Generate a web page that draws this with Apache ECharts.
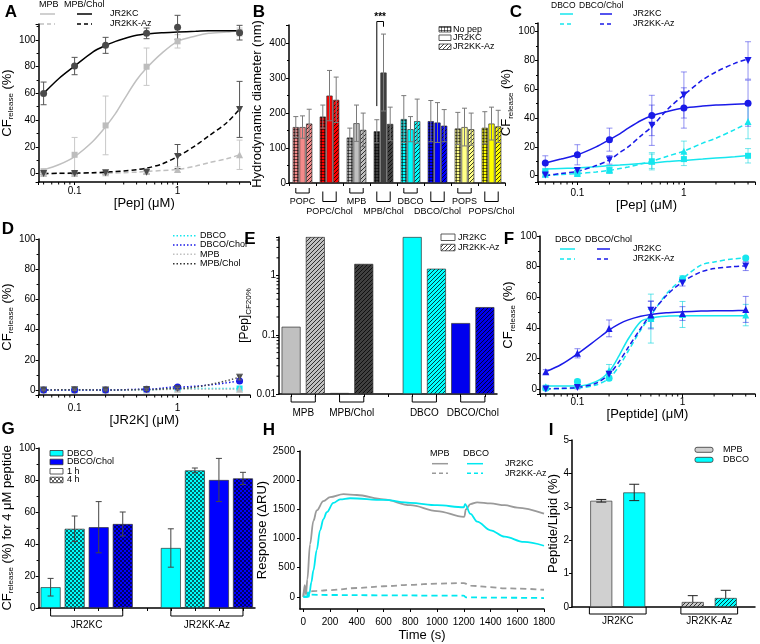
<!DOCTYPE html>
<html>
<head>
<meta charset="utf-8">
<title>CF release panels</title>
<script src="https://cdn.jsdelivr.net/npm/echarts@6.0.0/dist/echarts.min.js"></script>
<style>
html, body { margin: 0; padding: 0; background: #fff; }
#main { width: 760px; height: 644px; }
</style>
</head>
<body>
<div id="main"></div>
<script>
var FF = '"Liberation Sans", Arial, sans-serif';

// shared concentrations (uM)
var conc = [0.05, 0.1, 0.2, 0.5, 1, 4];
var fitX = [0.05, 0.07, 0.1, 0.15, 0.2, 0.25, 0.3, 0.4, 0.5, 0.7, 1, 1.5, 2, 3, 4];
// minor tick positions on the log axes
var logMinor = [0.02, 0.03, 0.04, 0.05, 0.06, 0.07, 0.08, 0.09, 0.2, 0.3, 0.4, 0.5, 0.6, 0.7, 0.8, 0.9, 2, 3, 4];

// A: MPB and MPB/Chol
var aMpbKc = [1.5, 14, 36, 80, 99, 106];
var aMpbKcErr = [2, 13, 22, 14, 5, 3];
var aCholKc = [60, 80.5, 96, 105, 109.5, 105.5];
var aCholKcErr = [8.5, 6.5, 6, 4, 9, 5.5];
var aMpbAz = [0, 0, 0.5, 1.5, 3, 14];
var aMpbAzErr = [1, 1, 1, 1.5, 2, 11];
var aCholAz = [0, 0, 0.5, 1, 12.7, 48];
var aCholAzErr = [1, 1, 1, 1.5, 9, 21];
var aMpbKcFit = [2.7, 6.5, 12.7, 24, 35, 45, 55, 70, 79, 90, 99, 103, 105, 106, 107];
var aCholKcFit = [60, 71, 80.5, 91, 96, 99, 101, 103.5, 104.5, 105.5, 106, 106.5, 107, 107, 107];
var aMpbAzFit = [0, 0, 0.1, 0.2, 0.3, 0.4, 0.6, 1, 1.5, 2.2, 3, 5.5, 8, 11, 14];
var aCholAzFit = [0, 0.1, 0.3, 0.6, 1, 1.4, 1.8, 2.8, 4, 7, 12.7, 21, 28, 38, 48];

// B: hydrodynamic diameter (nm)
var bGroups = ['POPC', 'POPC/Chol', 'MPB', 'MPB/Chol', 'DBCO', 'DBCO/Chol', 'POPS', 'POPS/Chol'];
var bNoPep = [160, 190, 130, 148, 183, 177, 156, 158];
var bNoPepErr = [30, 33, 27, 33, 67, 59, 46, 46];
var bKc = [160, 250, 171, 316, 154, 173, 160, 170];
var bKcErr = [32, 72, 52, 110, 36, 57, 54, 47];
var bAz = [170, 238, 152, 169, 177, 164, 154, 162];
var bAzErr = [41, 65, 48, 48, 63, 46, 46, 46];
var bSig = [3, 220, 462, 447]; // group, left foot, top, right foot

// C: DBCO and DBCO/Chol
var cDbcoKc = [3, 2, 3.7, 10, 11.5, 13.8];
var cDbcoKcErr = [2, 1.5, 2, 6, 4.5, 5];
var cCholKc = [8.8, 14.5, 25, 41.8, 47, 50.3];
var cCholKcErr = [5, 7, 8, 14, 14, 16];
var cDbcoAz = [1, 1.5, 4, 10, 17, 37.6];
var cDbcoAzErr = [1, 1, 2, 5, 7, 12];
var cCholAz = [0.5, 3.5, 11, 35, 56, 80];
var cCholAzErr = [1, 1.5, 3, 14, 16, 13];
var cDbcoKcFit = [4.6, 5, 5.3, 6.2, 7, 7.4, 7.8, 8.4, 8.8, 9.8, 10.6, 11.5, 12.2, 13.2, 14];
var cCholKcFit = [8.8, 11.5, 14.5, 20, 25, 29, 33, 38.5, 41.6, 44.6, 47, 48.3, 49, 49.6, 50];
var cDbcoAzFit = [0.2, 0.8, 1.4, 2.6, 3.7, 4.9, 6, 8.2, 10, 13.5, 17, 22.6, 26, 32, 36.5];
var cCholAzFit = [0, 1.5, 3, 7, 11, 16, 20, 28, 34, 46, 56, 66.5, 72, 78, 81];

// D: JR2K control
var dDbco = [0, 0, 0, 0.2, 1, 1];
var dDbcoChol = [0, 0, 0, 0.5, 2, 6];
var dDbcoCholErr = [0.5, 0.5, 0.5, 0.5, 0.8, 1.2];
var dMpb = [0, 0, 0, 0, 0.5, 0.5];
var dMpbChol = [0, 0.2, 0, 0.3, 1, 8.5];
var dMpbCholErr = [0.5, 0.5, 0.5, 0.5, 0.8, 1.8];

// E: [Pep] at CF 20 %
var eSlots = ['MPB JR2KC', 'MPB JR2KK-Az', 'MPB/Chol JR2KC', 'MPB/Chol JR2KK-Az', '',
  'DBCO JR2KC', 'DBCO JR2KK-Az', 'DBCO/Chol JR2KC', 'DBCO/Chol JR2KK-Az'];
var ePeptide = ['JR2KC', 'JR2KK-Az', 'JR2KC', 'JR2KK-Az', '', 'JR2KC', 'JR2KK-Az', 'JR2KC', 'JR2KK-Az'];
var eVals = [0.137, 4.5, 0.0104, 1.58, null, 4.5, 1.31, 0.158, 0.294];
var eGroups = ['MPB', 'MPB/Chol', 'DBCO', 'DBCO/Chol'];
var eFrom = [0, 2, 5, 7];
var eTo = [1, 3, 6, 8];

// F: DBCO and DBCO/Chol, peptide
var fDbcoKc = [1.5, 2.6, 12, 46, 48.7, 48.3];
var fDbcoKcErr = [1, 1.5, 4, 16, 8.5, 7];
var fCholKc = [11.3, 23.3, 39.6, 48.3, 49.3, 52];
var fCholKcErr = [1.3, 3, 5.5, 9, 4.5, 8.5];
var fDbcoAz = [0.5, 4.8, 7, 46, 72, 85.6];
var fDbcoAzErr = [1, 1.5, 1.5, 6, 2, 1];
var fCholAz = [0, 1, 9.6, 51.5, 69.3, 80.4];
var fCholAzErr = [1, 1, 2, 6, 2, 3];
var fDbcoKcFit = [2, 2, 2, 4.8, 11.3, 22, 32, 44, 46.5, 47.6, 47.8, 47.8, 47.8, 47.8, 47.8];
var fCholKcFit = [11.3, 16, 23, 32, 38.5, 42.5, 45, 47.5, 48.7, 49.8, 50.4, 50.9, 51.1, 51.2, 51.3];
var fDbcoAzFit = [0, 0.2, 0.5, 2.6, 7, 15, 24, 38.5, 48, 62, 72, 81, 83, 85, 85.6];
var fCholAzFit = [0, 0.4, 1, 3.7, 9.6, 18, 26.5, 39.6, 49, 61, 70, 76.5, 78.7, 80, 80.4];

// G: CF release for 4 uM peptide
var gSlots = ['JR2KC DBCO 1 h', 'JR2KC DBCO 4 h', 'JR2KC DBCO/Chol 1 h', 'JR2KC DBCO/Chol 4 h', '',
  'JR2KK-Az DBCO 1 h', 'JR2KK-Az DBCO 4 h', 'JR2KK-Az DBCO/Chol 1 h', 'JR2KK-Az DBCO/Chol 4 h'];
var gLipid = ['DBCO', 'DBCO', 'DBCO/Chol', 'DBCO/Chol', '', 'DBCO', 'DBCO', 'DBCO/Chol', 'DBCO/Chol'];
var gTime = ['1 h', '4 h', '1 h', '4 h', '', '1 h', '4 h', '1 h', '4 h'];
var gVals = [13, 49.5, 50.5, 52.5, null, 37.5, 86, 80, 81];
var gErr = [5.5, 8, 16, 7.5, null, 12, 1.5, 13.5, 3.8];
var gGroups = ['JR2KC', 'JR2KK-Az'];
var gFrom = [0, 5];
var gTo = [3, 8];

// H: SPR sensorgrams
var hMpbKcT = [0, 10, 20, 30, 50, 75, 100, 150, 200, 300, 400, 600, 800, 1000, 1200, 1205, 1215, 1250, 1300, 1400, 1506, 1600, 1800];
var hMpbKcV = [0, 200, 40, 300, 900, 1300, 1480, 1640, 1710, 1760, 1745, 1670, 1570, 1470, 1370, 1380, 1500, 1590, 1620, 1600, 1570, 1530, 1425];
var hDbcoKcT = [0, 30, 35, 40, 45, 60, 75, 100, 125, 150, 175, 225, 275, 350, 600, 800, 1000, 1200, 1210, 1250, 1300, 1400, 1506, 1650, 1800];
var hDbcoKcV = [0, 0, 80, 0, 50, 250, 450, 800, 1140, 1330, 1450, 1610, 1670, 1690, 1660, 1610, 1570, 1535, 1590, 1420, 1290, 1140, 1030, 940, 875];
var hMpbAzT = [0, 10, 20, 40, 100, 200, 400, 600, 800, 1000, 1200, 1250, 1400, 1506, 1600, 1800];
var hMpbAzV = [0, 150, 60, 90, 100, 115, 150, 180, 205, 225, 235, 190, 165, 145, 140, 120];
var hDbcoAzT = [0, 30, 35, 50, 200, 600, 1000, 1200, 1215, 1400, 1800];
var hDbcoAzV = [0, 0, 40, 35, 30, 25, 20, 18, -10, -15, -22];

// I: peptide/lipid
var iCats = ['JR2KC', 'JR2KK-Az'];
var iMpb = [3.18, 0.15];
var iMpbErrLo = [0.04, 0];
var iMpbErrHi = [0.04, 0.19];
var iDbco = [3.43, 0.27];
var iDbcoErrLo = [0.245, 0];
var iDbcoErrHi = [0.245, 0.23];

// ---------- colours / patterns
var CYAN = '#00ffff', CYANL = '#16e6ee', BLUE = '#0000ff', BLUEL = '#1a1ae8';
var LGRAY = '#c0c0c0', DGRAY = '#404040';
var DOWN = 'path://M0,0L10,0L5,9Z';

function pat(base, kind) {
  var n = kind === 'grid' ? 3 : 4;
  var c = document.createElement('canvas');
  c.width = n; c.height = n;
  var g = c.getContext('2d');
  g.fillStyle = base; g.fillRect(0, 0, n, n);
  if (kind === 'grid') {
    g.fillStyle = 'rgba(0,0,0,0.55)';
    g.fillRect(0, 0, n, 1); g.fillRect(0, 0, 1, n);
  } else if (kind === 'hatch') {
    g.strokeStyle = 'rgba(0,0,0,0.75)'; g.lineWidth = 1;
    g.beginPath();
    g.moveTo(0, n); g.lineTo(n, 0);
    g.moveTo(-1, 1); g.lineTo(1, -1);
    g.moveTo(n - 1, n + 1); g.lineTo(n + 1, n - 1);
    g.stroke();
  } else if (kind === 'check') {
    g.fillStyle = 'rgba(0,0,0,0.6)';
    g.fillRect(0, 0, 2, 2); g.fillRect(2, 2, 2, 2);
  }
  return {image: c, repeat: 'repeat'};
}

function merge(a, b) {
  var o = {};
  [a, b].forEach(function (src) {
    if (!src) return;
    Object.keys(src).forEach(function (k) {
      var v = src[k];
      if (v && typeof v === 'object' && !Array.isArray(v) && o[k] && typeof o[k] === 'object' && !Array.isArray(o[k]) && !v.image) {
        o[k] = merge(o[k], v);
      } else {
        o[k] = v;
      }
    });
  });
  return o;
}

var RICH = {
  a: {fontSize: 13, fontFamily: FF, color: '#000'},
  b: {fontSize: 12, fontFamily: FF, color: '#000'},
  s: {fontSize: 8, fontFamily: FF, color: '#000', padding: [7, 0, 0, 0]}
};

function axisBase(pi) {
  return {
    gridIndex: pi,
    splitLine: {show: false},
    axisLine: {show: true, onZero: false, lineStyle: {color: '#000', width: 1.5}},
    axisTick: {show: true, length: 3, lineStyle: {color: '#000', width: 1}},
    axisLabel: {fontSize: 10, fontFamily: FF, color: '#000', margin: 4},
    nameLocation: 'middle',
    nameTextStyle: {fontSize: 13, fontFamily: FF, color: '#000', rich: RICH}
  };
}
function logFmt(v) {
  var l = Math.log(v) / Math.LN10;
  return Math.abs(l - Math.round(l)) < 1e-6 ? String(+v.toPrecision(6)) : '';
}
function plainFmt(v) { return String(v); }
function logX(pi, min, max, name, gap, margin) {
  return merge(axisBase(pi), {
    type: 'log', logBase: 10, min: min, max: max, name: name, nameGap: gap,
    axisLabel: {formatter: logFmt, margin: margin}
  });
}
function valY(pi, min, max, name, gap, opt) {
  return merge(merge(axisBase(pi), {
    type: 'value', min: min, max: max, name: name, nameGap: gap,
    minorTick: {show: true, splitNumber: 2, length: 2, lineStyle: {color: '#000'}},
    axisLabel: {showMinLabel: false, showMaxLabel: false, margin: 3}
  }), opt || {});
}
function catX(pi, data, opt) {
  return merge(merge(axisBase(pi), {
    type: 'category', data: data,
    axisLabel: {show: false},
    axisTick: {alignWithLabel: true, interval: 0}
  }), opt || {});
}

// ---------- series helpers
function fitSeries(pi, ys, color, dashed) {
  return {
    type: 'line', xAxisIndex: pi, yAxisIndex: pi, silent: true, z: 2,
    data: fitX.map(function (x, i) { return [x, ys[i]]; }),
    smooth: 0.3, symbol: 'none',
    lineStyle: {color: color, width: 1.5, type: dashed ? [5, 3] : 'solid'}
  };
}
function markSeries(pi, ys, symbol, color, size) {
  return {
    type: 'scatter', xAxisIndex: pi, yAxisIndex: pi, silent: true, z: 5,
    data: conc.map(function (x, i) { return [x, ys[i]]; }),
    symbol: symbol, symbolSize: size || 7, itemStyle: {color: color, opacity: 1}
  };
}
function errSeries(pi, xs, ys, lo, hi, color, cap, shift) {
  var rows = [];
  xs.forEach(function (x, i) {
    if (ys[i] == null) return;
    rows.push([x, ys[i] - lo[i], ys[i] + hi[i], ys[i]]);
  });
  return {
    type: 'custom', xAxisIndex: pi, yAxisIndex: pi, silent: true, z: 4,
    data: rows,
    renderItem: function (params, api) {
      var dx = shift ? shift * api.size([1, 0])[0] : 0;
      var a = api.coord([api.value(0), api.value(1)]);
      var b = api.coord([api.value(0), api.value(2)]);
      var x = a[0] + dx;
      var st = {stroke: color, lineWidth: 1};
      var ch = [
        {type: 'line', shape: {x1: x, y1: a[1], x2: x, y2: b[1]}, style: st},
        {type: 'line', shape: {x1: x - cap, y1: b[1], x2: x + cap, y2: b[1]}, style: st}
      ];
      if (api.value(1) < api.value(3)) {
        ch.push({type: 'line', shape: {x1: x - cap, y1: a[1], x2: x + cap, y2: a[1]}, style: st});
      }
      return {type: 'group', children: ch};
    }
  };
}
function idx(arr) { return arr.map(function (v, i) { return i; }); }

// minor ticks of a log x axis, drawn at the bottom edge (yEdge = y axis min)
function minorX(pi, min, max, yEdge) {
  var vals = logMinor.filter(function (v) { return v >= min && v <= max; });
  return {
    type: 'custom', xAxisIndex: pi, yAxisIndex: pi, silent: true, z: 3,
    data: vals.map(function (v) { return [v, yEdge]; }),
    renderItem: function (params, api) {
      var p = api.coord([api.value(0), api.value(1)]);
      return {type: 'line', shape: {x1: p[0], y1: p[1], x2: p[0], y2: p[1] + 2.5},
        style: {stroke: '#000', lineWidth: 1}};
    }
  };
}
// minor ticks of a log y axis sitting on a category x axis
function minorY(pi, min, max) {
  var vals = logMinor.filter(function (v) { return v >= min && v <= max; });
  return {
    type: 'custom', xAxisIndex: pi, yAxisIndex: pi, silent: true, z: 3,
    data: vals.map(function (v) { return [0, v]; }),
    renderItem: function (params, api) {
      var band = api.size([1, 0])[0];
      var p = api.coord([0, api.value(1)]);
      var x = p[0] - band / 2;
      return {type: 'line', shape: {x1: x, y1: p[1], x2: x - 2.5, y2: p[1]},
        style: {stroke: '#000', lineWidth: 1}};
    }
  };
}

// brackets under category groups
function bracketSeries(pi, labels, from, to, base, rows, cfg) {
  return {
    type: 'custom', xAxisIndex: pi, yAxisIndex: pi, silent: true, z: 6,
    data: labels.map(function (l, i) { return [from[i], to[i], base, rows[i]]; }),
    renderItem: function (params, api) {
      var band = api.size([1, 0])[0];
      var p0 = api.coord([api.value(0), base]);
      var p1 = api.coord([api.value(1), base]);
      var r = api.value(3);
      var x0 = p0[0] - cfg.ext * band, x1 = p1[0] + cfg.ext * band, y = p0[1];
      var t = y + cfg.top[r], b = y + cfg.bot[r];
      var st = {stroke: '#000', lineWidth: 1, fill: 'none'};
      return {type: 'group', children: [
        {type: 'polyline', shape: {points: [[x0, t], [x0, b], [x1, b], [x1, t]]}, style: st},
        {type: 'text', x: (x0 + x1) / 2, y: y + cfg.lab[r], style: {
          text: labels[params.dataIndex], font: cfg.font + ' ' + FF, fill: '#000',
          textAlign: 'center', textVerticalAlign: 'middle', align: 'center', verticalAlign: 'middle'}}
      ]};
    }
  };
}

var BAR_BORDER = {borderColor: '#333', borderWidth: 0.7};

// ---------- axes
var xAxes = [
  logX(0, 0.0447, 5.05, '[Pep] (\u03bcM)', 12, 4),
  catX(1, bGroups, {axisTick: {alignWithLabel: false}}),
  logX(2, 0.0427, 4.65, '[Pep] (\u03bcM)', 14, 6),
  logX(3, 0.0447, 5.05, '[JR2K] (\u03bcM)', 16, 8),
  catX(4, eSlots),
  logX(5, 0.044, 4.9, '[Peptide] (\u03bcM)', 14, 3),
  catX(6, gSlots),
  merge(axisBase(7), {type: 'value', min: -25, max: 1800, splitNumber: 9, name: 'Time (s)', nameGap: 20,
    axisLabel: {showMinLabel: false, margin: 8, formatter: plainFmt}}),
  catX(8, iCats, {axisTick: {show: false}})
];
var yAxes = [
  valY(0, -6.4, 112, '{a|CF}{s|release}{a| (%)}', 15),
  valY(1, 0, 452, 'Hydrodynamic diameter (nm)', 25, {axisLabel: {showMinLabel: true}}),
  valY(2, -4.4, 106, '{a|CF}{s|release}{a| (%)}', 16),
  valY(3, -3.3, 100, '{a|CF}{s|release}{a| (%)}', 16, {axisLabel: {showMaxLabel: true}}),
  merge(axisBase(4), {type: 'log', logBase: 10, min: 0.01, max: 4.5, startValue: 0.01,
    name: '{b|[Pep]}{s|CF20%}', nameGap: 14, axisLabel: {formatter: logFmt, margin: 3}}),
  valY(5, -3.3, 100, '{a|CF}{s|release}{a| (%)}', 19, {axisLabel: {showMaxLabel: true}}),
  valY(6, 0, 100, '{a|CF}{s|release}{a| (%) for 4 \u03bcM peptide}', 20, {axisLabel: {showMinLabel: true, showMaxLabel: true}}),
  merge(axisBase(7), {type: 'value', min: -210, max: 2500, name: 'Response (\u0394RU)', nameGap: 27,
    axisLabel: {showMinLabel: false, margin: 5, formatter: plainFmt}}),
  merge(axisBase(8), {type: 'value', min: 0, max: 5, name: 'Peptide/Lipid (%)', nameGap: 10,
    axisLabel: {margin: 3}})
];

// ---------- series
var series = [];
// A
series.push(
  minorX(0, 0.0447, 5.05, -6.4),
  fitSeries(0, aMpbKcFit, LGRAY, false),
  fitSeries(0, aMpbAzFit, LGRAY, true),
  fitSeries(0, aCholKcFit, '#000', false),
  fitSeries(0, aCholAzFit, '#000', true),
  errSeries(0, conc, aMpbKc, aMpbKcErr, aMpbKcErr, '#c8c8c8', 3),
  errSeries(0, conc, aMpbAz, aMpbAzErr, aMpbAzErr, '#c8c8c8', 3),
  errSeries(0, conc, aCholKc, aCholKcErr, aCholKcErr, '#555', 3),
  errSeries(0, conc, aCholAz, aCholAzErr, aCholAzErr, '#555', 3),
  markSeries(0, aMpbKc, 'rect', '#bdbdbd', 6),
  markSeries(0, aMpbAz, 'triangle', '#bdbdbd', 7),
  markSeries(0, aCholKc, 'circle', '#4a4a4a', 7),
  markSeries(0, aCholAz, DOWN, '#4a4a4a', 7)
);
// B
var bSets = [[bNoPep, bNoPepErr, 'grid'], [bKc, bKcErr, 'plain'], [bAz, bAzErr, 'hatch']];
var bColors = ['#f48a8a', '#ff0000', '#c0c0c0', '#404040', '#00ffff', '#0000ff', '#ffff88', '#ffff00'];
bSets.forEach(function (s, j) {
  series.push({
    type: 'bar', xAxisIndex: 1, yAxisIndex: 1, silent: true, barWidth: 6.2, barGap: '8%', z: 2,
    itemStyle: BAR_BORDER,
    data: s[0].map(function (v, i) {
      return {value: v, itemStyle: {color: s[2] === 'plain' ? bColors[i] : pat(bColors[i], s[2])}};
    })
  });
});
bSets.forEach(function (s, j) {
  series.push(errSeries(1, idx(bGroups), s[0], s[1], s[1], '#7a7a7a', 2.5, (j - 1) * 0.248));
});
series.push(bracketSeries(1, bGroups, idx(bGroups), idx(bGroups), 0,
  bGroups.map(function (g, i) { return i % 2; }),
  {ext: 0.248, top: [5, 8.5], bot: [10, 18.5], lab: [18.5, 28.5], font: '9px'}));
series.push({
  type: 'custom', xAxisIndex: 1, yAxisIndex: 1, silent: true, z: 7, data: [bSig],
  renderItem: function (params, api) {
    var band = api.size([1, 0])[0];
    var p0 = api.coord([api.value(0), api.value(1)]);
    var pt = api.coord([api.value(0), api.value(2)]);
    var p1 = api.coord([api.value(0), api.value(3)]);
    var xl = p0[0] - 0.248 * band, xr = p0[0];
    return {type: 'group', children: [
      {type: 'polyline', shape: {points: [[xl, p0[1]], [xl, pt[1]], [xr, pt[1]], [xr, p1[1]]]},
        style: {stroke: '#000', lineWidth: 1, fill: 'none'}},
      {type: 'text', x: (xl + xr) / 2, y: pt[1] + 1, style: {text: '***', font: 'bold 10px ' + FF, fill: '#000',
        textAlign: 'center', textVerticalAlign: 'bottom', align: 'center', verticalAlign: 'bottom'}}
    ]};
  }
});
// C
series.push(
  minorX(2, 0.0427, 4.65, -4.4),
  fitSeries(2, cDbcoKcFit, CYANL, false),
  fitSeries(2, cDbcoAzFit, CYANL, true),
  fitSeries(2, cCholKcFit, BLUEL, false),
  fitSeries(2, cCholAzFit, BLUEL, true),
  errSeries(2, conc, cDbcoKc, cDbcoKcErr, cDbcoKcErr, 'rgba(0,210,220,0.55)', 3),
  errSeries(2, conc, cDbcoAz, cDbcoAzErr, cDbcoAzErr, 'rgba(0,210,220,0.55)', 3),
  errSeries(2, conc, cCholKc, cCholKcErr, cCholKcErr, 'rgba(40,40,230,0.5)', 3),
  errSeries(2, conc, cCholAz, cCholAzErr, cCholAzErr, 'rgba(40,40,230,0.5)', 3),
  markSeries(2, cDbcoKc, 'rect', CYANL, 6),
  markSeries(2, cDbcoAz, 'triangle', CYANL, 7),
  markSeries(2, cCholKc, 'circle', BLUEL, 7),
  markSeries(2, cCholAz, DOWN, BLUEL, 7)
);
// D
function dotSeries(ys, symbol, color, size) {
  return {
    type: 'line', xAxisIndex: 3, yAxisIndex: 3, silent: true, z: 3,
    data: conc.map(function (x, i) { return [x, ys[i]]; }),
    smooth: 0.4, smoothMonotone: 'x', symbol: symbol, symbolSize: size || 7, showSymbol: true,
    itemStyle: {color: color}, lineStyle: {color: color, width: 1.5, type: [1.5, 2]}
  };
}
series.push(
  minorX(3, 0.0447, 5.05, -3.3),
  dotSeries(dDbco, 'rect', CYANL, 6),
  dotSeries(dMpb, 'triangle', LGRAY, 7),
  errSeries(3, conc, dDbcoChol, dDbcoCholErr, dDbcoCholErr, 'rgba(40,40,230,0.5)', 2.5),
  errSeries(3, conc, dMpbChol, dMpbCholErr, dMpbCholErr, '#666', 2.5),
  dotSeries(dDbcoChol, 'circle', BLUEL, 7),
  dotSeries(dMpbChol, DOWN, '#4a4a4a', 7)
);
// E
var eColors = ['#c0c0c0', '#c0c0c0', '#404040', '#404040', '#fff', '#00ffff', '#00ffff', '#0000ee', '#0000ee'];
series.push({
  type: 'bar', xAxisIndex: 4, yAxisIndex: 4, silent: true, barWidth: 19, clip: true, z: 2,
  itemStyle: BAR_BORDER,
  data: eVals.map(function (v, i) {
    if (v == null) return '-';
    return {value: v, itemStyle: {color: ePeptide[i] === 'JR2KK-Az' ? pat(eColors[i], 'hatch') : eColors[i]}};
  })
});
series.push(minorY(4, 0.01, 4.5));
series.push(bracketSeries(4, eGroups, eFrom, eTo, 0.01, [0, 0, 0, 0],
  {ext: 0, top: [2], bot: [8], lab: [19], font: '10px'}));
// F
series.push(
  minorX(5, 0.044, 4.9, -3.3),
  fitSeries(5, fDbcoKcFit, CYANL, false),
  fitSeries(5, fDbcoAzFit, CYANL, true),
  fitSeries(5, fCholKcFit, BLUEL, false),
  fitSeries(5, fCholAzFit, BLUEL, true),
  errSeries(5, conc, fDbcoKc, fDbcoKcErr, fDbcoKcErr, 'rgba(0,210,220,0.6)', 3),
  errSeries(5, conc, fDbcoAz, fDbcoAzErr, fDbcoAzErr, 'rgba(0,210,220,0.6)', 3),
  errSeries(5, conc, fCholKc, fCholKcErr, fCholKcErr, 'rgba(40,40,230,0.55)', 3),
  errSeries(5, conc, fCholAz, fCholAzErr, fCholAzErr, 'rgba(40,40,230,0.55)', 3),
  markSeries(5, fDbcoAz, 'circle', CYANL, 7),
  markSeries(5, fDbcoKc, 'triangle', CYANL, 7),
  markSeries(5, fCholKc, 'triangle', BLUEL, 7),
  markSeries(5, fCholAz, DOWN, BLUEL, 7)
);
// G
series.push({
  type: 'bar', xAxisIndex: 6, yAxisIndex: 6, silent: true, barWidth: 20, z: 2,
  itemStyle: BAR_BORDER,
  data: gVals.map(function (v, i) {
    if (v == null) return '-';
    var base = gLipid[i] === 'DBCO' ? CYAN : BLUE;
    return {value: v, itemStyle: {color: gTime[i] === '4 h' ? pat(base, 'check') : base}};
  })
});
series.push(errSeries(6, idx(gSlots), gVals, gErr, gErr, '#444', 3));
series.push(bracketSeries(6, gGroups, gFrom, gTo, 0, [0, 0],
  {ext: 0, top: [0], bot: [8], lab: [17.5], font: '10px'}));
// H
function hLine(ts, vs, color, dashed) {
  return {
    type: 'line', xAxisIndex: 7, yAxisIndex: 7, silent: true, symbol: 'none',
    data: ts.map(function (t, i) { return [t, vs[i]]; }),
    smooth: 0.35, smoothMonotone: 'x',
    lineStyle: {color: color, width: 1.8, type: dashed ? [6, 4] : 'solid'}
  };
}
series.push(
  hLine(hMpbAzT, hMpbAzV, '#9a9a9a', true),
  hLine(hDbcoAzT, hDbcoAzV, '#00e8f0', true),
  hLine(hMpbKcT, hMpbKcV, '#9a9a9a', false),
  hLine(hDbcoKcT, hDbcoKcV, '#00e8f0', false)
);
// I
series.push({
  type: 'bar', xAxisIndex: 8, yAxisIndex: 8, silent: true, barWidth: 22, barGap: '50%', z: 2,
  itemStyle: BAR_BORDER,
  data: iMpb.map(function (v, i) { return {value: v, itemStyle: {color: i ? pat('#c8c8c8', 'hatch') : '#d0d0d0'}}; })
}, {
  type: 'bar', xAxisIndex: 8, yAxisIndex: 8, silent: true, barWidth: 22, barGap: '50%', z: 2,
  itemStyle: BAR_BORDER,
  data: iDbco.map(function (v, i) { return {value: v, itemStyle: {color: i ? pat(CYAN, 'hatch') : CYAN}}; })
});
series.push(errSeries(8, idx(iCats), iMpb, iMpbErrLo, iMpbErrHi, '#222', 5, -0.18));
series.push(errSeries(8, idx(iCats), iDbco, iDbcoErrLo, iDbcoErrHi, '#222', 5, 0.18));
series.push(bracketSeries(8, iCats, [0, 1], [0, 1], 0, [0, 0],
  {ext: 0.31, top: [0], bot: [7], lab: [14.5], font: '10px'}));

// ---------- legends, panel letters (graphic)
var gfx = [];
function gText(x, y, s, opt) {
  gfx.push({type: 'text', x: x, y: y, silent: true, style: merge({
    text: s, font: '9px ' + FF, fill: '#000', textAlign: 'left', textVerticalAlign: 'middle',
    align: 'left', verticalAlign: 'middle'}, opt || {})});
}
function gLine(x1, y1, x2, y2, color, dash, w) {
  gfx.push({type: 'line', silent: true, shape: {x1: x1, y1: y1, x2: x2, y2: y2},
    style: {stroke: color, lineWidth: w || 1.5, lineDash: dash || null}});
}
function gRect(x, y, w, h, fill, r) {
  gfx.push({type: 'rect', silent: true, shape: {x: x, y: y, width: w, height: h, r: r || 0},
    style: {fill: fill, stroke: '#333', lineWidth: 0.8}});
}
var SM = {font: '8.5px ' + FF};
var L = {font: 'bold 17px ' + FF, textAlign: 'center', align: 'center'};
[['A', 11, 12], ['B', 259, 12], ['C', 516, 12], ['D', 8, 229], ['E', 250, 239], ['F', 509, 239],
 ['G', 8, 429], ['H', 269, 430], ['I', 551, 430]].forEach(function (p) { gText(p[1], p[2], p[0], L); });

// A legend
gText(39, 5, 'MPB'); gText(64, 5, 'MPB/Chol');
gLine(40, 14, 55, 14, LGRAY); gLine(77, 14, 92, 14, '#000'); gText(110, 14, 'JR2KC');
gLine(40, 24, 55, 24, LGRAY, [4, 3]); gLine(77, 24, 92, 24, '#000', [4, 3]); gText(110, 24, 'JR2KK-Az');
// B legend
gRect(439, 26.5, 12, 5.5, pat('#ffffff', 'grid')); gText(453, 29.3, 'No pep');
gRect(439, 35, 12, 5.5, '#fff'); gText(453, 37.7, 'JR2KC');
gRect(439, 44, 12, 5.5, pat('#ffffff', 'hatch')); gText(453, 46.7, 'JR2KK-Az');
// C legend
gText(551, 5.5, 'DBCO', SM); gText(579, 5.5, 'DBCO/Chol', SM);
gLine(560, 14, 573, 14, CYANL); gLine(600, 14, 612, 14, BLUEL); gText(633, 14, 'JR2KC');
gLine(560, 24, 573, 24, CYANL, [4, 3]); gLine(600, 24, 612, 24, BLUEL, [4, 3]); gText(633, 24, 'JR2KK-Az');
// D legend
[['DBCO', CYANL, 235.7], ['DBCO/Chol', BLUEL, 245], ['MPB', LGRAY, 254.3], ['MPB/Chol', '#333', 263.7]].forEach(function (r) {
  gLine(173, r[2], 197, r[2], r[1], [1.5, 2]); gText(200, r[2], r[0]);
});
// E legend
gRect(441, 234, 14, 6.5, '#fff'); gText(458, 237.3, 'JR2KC');
gRect(441, 244.3, 14, 6.5, pat('#ffffff', 'hatch')); gText(458, 247.5, 'JR2KK-Az');
// F legend
gText(555, 240, 'DBCO'); gText(585, 240, 'DBCO/Chol');
gLine(560, 249, 575, 249, CYANL); gLine(597, 249, 610, 249, BLUEL); gText(633, 249, 'JR2KC');
gLine(560, 259, 575, 259, CYANL, [4, 3]); gLine(597, 259, 610, 259, BLUEL, [4, 3]); gText(633, 259, 'JR2KK-Az');
// G legend
gRect(50, 450.5, 13, 5.5, CYAN); gText(67, 453.3, 'DBCO');
gRect(50, 459.2, 13, 5.5, BLUE); gText(67, 462, 'DBCO/Chol');
gRect(50, 468.5, 13, 5.5, '#fff'); gText(67, 471.3, '1 h');
gRect(50, 477.2, 13, 5.5, pat('#ffffff', 'check')); gText(67, 480, '4 h');
// H legend
gText(430, 454, 'MPB'); gText(463, 454, 'DBCO');
gLine(432, 463.7, 448, 463.7, '#9a9a9a'); gLine(467, 463.7, 483, 463.7, '#00e8f0'); gText(505, 463.7, 'JR2KC');
gLine(432, 473.3, 448, 473.3, '#9a9a9a', [4, 3]); gLine(467, 473.3, 483, 473.3, '#00e8f0', [4, 3]); gText(505, 473.3, 'JR2KK-Az');
// I legend
gRect(695, 447.3, 18, 5, '#d0d0d0', 2); gText(723, 449.8, 'MPB');
gRect(695, 457.3, 18, 5, CYAN, 2); gText(723, 459.8, 'DBCO');

var option = {
  animation: false,
  backgroundColor: '#fff',
  textStyle: {fontFamily: FF},
  grid: [
    {left: 33, top: 24, width: 217, height: 158},
    {left: 289, top: 25, width: 216, height: 158},
    {left: 538, top: 23, width: 217, height: 159},
    {left: 33, top: 239, width: 217, height: 156},
    {left: 279, top: 237, width: 218, height: 157},
    {left: 540, top: 236, width: 215, height: 158},
    {left: 37, top: 448, width: 218, height: 160},
    {left: 300, top: 451, width: 244, height: 158},
    {left: 572, top: 440, width: 183, height: 167}
  ],
  xAxis: xAxes,
  yAxis: yAxes,
  series: series,
  graphic: {elements: gfx}
};

var chart = echarts.init(document.getElementById('main'));
chart.setOption(option);
window.addEventListener('resize', function () { chart.resize(); });
</script>
</body>
</html>
